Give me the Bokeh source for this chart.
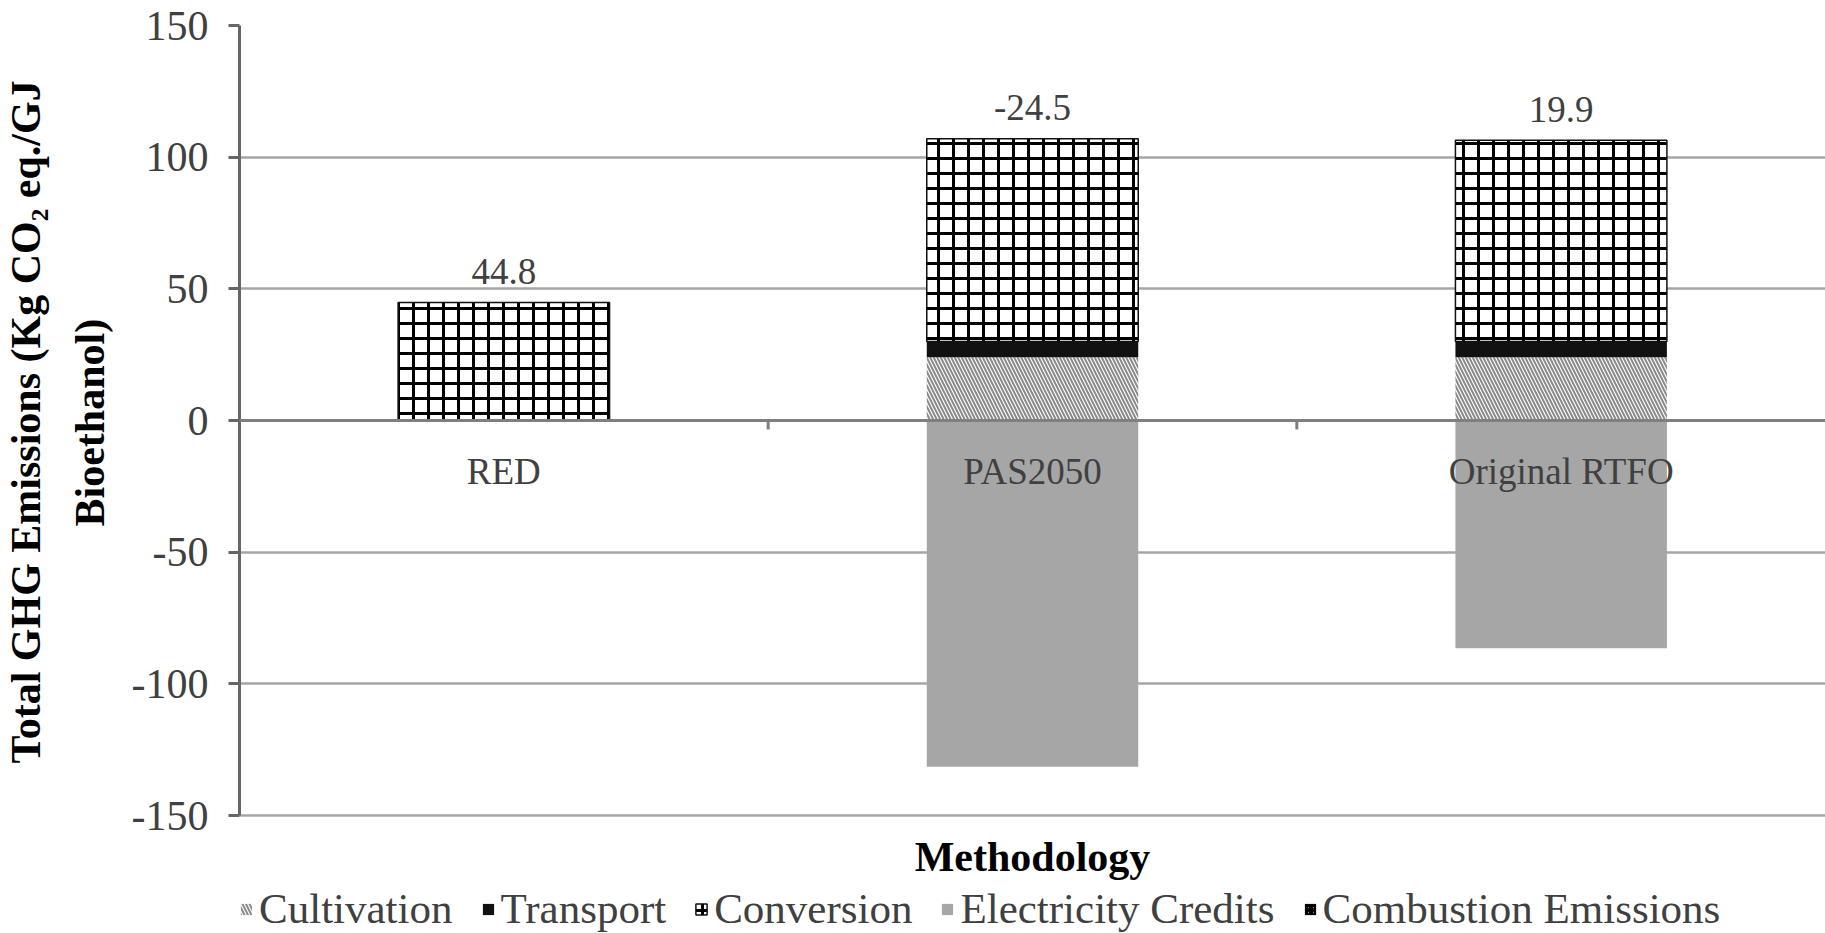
from bokeh.plotting import figure
from bokeh.models import (ColumnDataSource, Range1d, FixedTicker, PrintfTickFormatter,
                          Span, Legend, LegendItem, Title)
from bokeh.core.properties import value
from bokeh.embed import file_html
from bokeh.resources import INLINE

# GHG balance of bioethanol under three accounting methodologies (kg CO2 eq./GJ)
methods = ["RED", "PAS2050", "Original RTFO"]
cultivation = [0.0, 24.0, 24.0]
transport = [0.0, 6.0, 6.0]
conversion = [44.8, 77.0, 76.4]
electricity_credits = [0.0, -131.5, -86.5]
combustion = [0.0, 0.0, 0.0]
net_labels = ["44.8", "-24.5", "19.9"]
y_ticks = [-150, -100, -50, 0, 50, 100, 150]
y_title_lines = ["Total GHG Emissions (Kg CO\u2082 eq./GJ", "Bioethanol)"]

SERIF = "Liberation Serif"
TEXT_GREY = "#404040"

# the frame runs down to the page bottom so the axis title and legend can sit
# under the value axis; the axis itself is bounded to the tick span
Y_BOTTOM = y_ticks[0] - 44.8

xpos = [i + 0.5 for i in range(len(methods))]
pos_total = [a + b + c + d for a, b, c, d in zip(cultivation, transport, conversion, combustion)]

source = ColumnDataSource(dict(
    x=xpos, method=methods, cultivation=cultivation, transport=transport,
    conversion=conversion, combustion=combustion, elec=electricity_credits,
    zero=[0.0] * len(methods), pos_total=pos_total, label=net_labels,
))

p = figure(width=1825, height=933, output_backend="svg", toolbar_location=None,
           x_axis_type=None, x_range=Range1d(0, len(methods)),
           y_range=Range1d(Y_BOTTOM, y_ticks[-1]),
           min_border_left=239, min_border_right=0, min_border_top=25,
           min_border_bottom=0)
p.outline_line_color = None
p.background_fill_color = "white"
p.border_fill_color = "white"

# y axis
ax = p.yaxis[0]
ax.bounds = (y_ticks[0], y_ticks[-1])
ax.ticker = FixedTicker(ticks=y_ticks)
ax.formatter = PrintfTickFormatter(format="%d")
ax.major_label_text_font = SERIF
ax.major_label_text_font_size = "42px"
ax.major_label_text_color = TEXT_GREY
ax.major_tick_out = 11
ax.major_tick_in = 0
ax.major_tick_line_color = "#666666"
ax.major_tick_line_width = 3
ax.minor_tick_line_color = None
ax.axis_line_color = "#666666"
ax.axis_line_width = 3
ax.major_label_standoff = 20

# two-line value-axis title; each line starts `offset` px above the frame
# bottom so that both are centred on the bounded value range
for line, standoff, offset in zip(reversed(y_title_lines), (32, 0), (407, 170)):
    p.add_layout(Title(text=line, align="left", offset=offset, standoff=standoff,
                       text_font=SERIF, text_font_size="42px",
                       text_font_style="bold", text_color="black"), "left")

p.ygrid.ticker = FixedTicker(ticks=y_ticks)
p.ygrid.bounds = (y_ticks[0], y_ticks[-1])
p.ygrid.grid_line_color = "#a6a6a6"
p.ygrid.grid_line_width = 2.5

# stacked positive components
stack = p.vbar_stack(
    ["cultivation", "transport", "conversion", "combustion"],
    x="x", width=0.4, source=source,
    fill_color=["white", "#111111", "white", "white"],
    line_color=[None, None, "#111111", None],
    line_width=[1, 1, 1.5, 1],
    hatch_pattern=["\\", " ", "+", "/"],
    hatch_color=["#8a8a8a", "#111111", "#000000", "#000000"],
    hatch_weight=[2, 1, 3, 3],
    hatch_scale=[7, 12, 15, 5],
)
r_cult, r_trans, r_conv, r_comb = stack

# negative electricity credits
r_elec = p.vbar(x="x", top="zero", bottom="elec", width=0.4, source=source,
                fill_color="#a6a6a6", line_color=None)

# horizontal category axis at zero
p.add_layout(Span(location=0, dimension="width", line_color="#7f7f7f", line_width=3))
bounds = list(range(1, len(methods)))
p.segment(x0=bounds, y0=[0] * len(bounds), x1=bounds, y1=[-3.4] * len(bounds),
          line_color="#7f7f7f", line_width=3)

p.text(x="x", y="zero", text="method", source=source, text_align="center",
       text_baseline="alphabetic", y_offset=51, text_font=value(SERIF),
       text_font_size="37px", text_color=TEXT_GREY)

# net value labels above each column
p.text(x="x", y="pos_total", text="label", source=source, text_align="center",
       text_baseline="alphabetic", y_offset=-31, text_font=value(SERIF),
       text_font_size="37px", text_color=TEXT_GREY)

# category axis title under the value range
p.text(x=[len(methods) / 2], y=[y_ticks[0]], text=["Methodology"], text_align="center",
       text_baseline="alphabetic", y_offset=41, text_font=value(SERIF),
       text_font_size="42px", text_font_style="bold", text_color="black")

legend = Legend(items=[
    LegendItem(label="Cultivation", renderers=[r_cult]),
    LegendItem(label="Transport", renderers=[r_trans]),
    LegendItem(label="Conversion", renderers=[r_conv]),
    LegendItem(label="Electricity Credits", renderers=[r_elec]),
    LegendItem(label="Combustion Emissions", renderers=[r_comb]),
], orientation="horizontal", location=(0, 0))
legend.label_text_font = SERIF
legend.label_text_font_size = "43px"
legend.label_text_color = TEXT_GREY
legend.glyph_width = 14
legend.glyph_height = 14
legend.label_standoff = 6
legend.spacing = 28
legend.padding = 0
legend.margin = 0
legend.border_line_color = None
legend.background_fill_alpha = 0
p.add_layout(legend)

open("out.html", "w").write(file_html(p, INLINE))
